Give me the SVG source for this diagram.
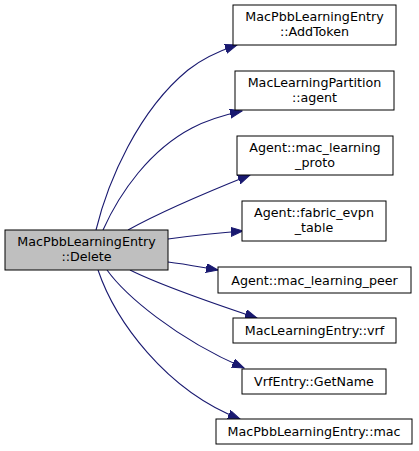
<svg xmlns="http://www.w3.org/2000/svg" width="419" height="451" viewBox="0 0 419 451">
<style>
.n rect{fill:#ffffff;stroke:#000000;stroke-width:1}
.n.cur rect{fill:#bfbfbf;stroke:#000000}
.n text{font-family:"DejaVu Sans",sans-serif;font-size:12.7px;fill:#000000;text-anchor:middle}
.e path{fill:none;stroke:#191970;stroke-width:1.1}
</style>
<defs>
<marker id="ah" markerUnits="userSpaceOnUse" markerWidth="13" markerHeight="10" refX="12" refY="4.5" orient="auto">
<path d="M0,0 L12,4.5 L0,9 z" fill="#191970" stroke="#191970" stroke-width="1"/>
</marker>
</defs>
<rect width="419" height="451" fill="#ffffff"/>
<g id="edges" class="e">
<path marker-end="url(#ah)" d="M96,230 C108,181 138,111 188,70 C203,58 219,51 237,45"/>
<path marker-end="url(#ah)" d="M103,230 C120,192 150,150 192,128 C207,120 224,115 242,111"/>
<path marker-end="url(#ah)" d="M128,230 C155,215 200,195 250,175"/>
<path marker-end="url(#ah)" d="M168,239 C190,236 215,233 243,231"/>
<path marker-end="url(#ah)" d="M168,262 C185,264 200,267 218,270"/>
<path marker-end="url(#ah)" d="M130,270 C160,285 215,304 257,318"/>
<path marker-end="url(#ah)" d="M107,270 C125,295 175,338 244,368"/>
<path marker-end="url(#ah)" d="M98,270 C115,320 165,390 240,419"/>
</g>
<g id="node-delete" class="n cur"><rect x="5" y="230" width="163" height="40"/><text x="86.5" y="246.2">MacPbbLearningEntry</text><text x="86.5" y="261.1">::Delete</text></g>
<g id="node-addtoken" class="n"><rect x="233" y="5" width="163" height="40"/><text x="314.5" y="21.2">MacPbbLearningEntry</text><text x="314.5" y="36.1">::AddToken</text></g>
<g id="node-agent" class="n"><rect x="235" y="71" width="159" height="39"/><text x="314.5" y="86.7">MacLearningPartition</text><text x="314.5" y="101.6">::agent</text></g>
<g id="node-proto" class="n"><rect x="237" y="136" width="156" height="39"/><text x="315" y="151.7">Agent::mac_learning</text><text x="315" y="166.6">_proto</text></g>
<g id="node-fabric" class="n"><rect x="242" y="201" width="144" height="40"/><text x="314" y="217.2">Agent::fabric_evpn</text><text x="314" y="232.1">_table</text></g>
<g id="node-peer" class="n"><rect x="218" y="267" width="193" height="26"/><text x="314.5" y="284.5">Agent::mac_learning_peer</text></g>
<g id="node-vrf" class="n"><rect x="233" y="318" width="163" height="25"/><text x="314.5" y="335">MacLearningEntry::vrf</text></g>
<g id="node-getname" class="n"><rect x="242" y="369" width="144" height="25"/><text x="314" y="386">VrfEntry::GetName</text></g>
<g id="node-mac" class="n"><rect x="216" y="419" width="196" height="25"/><text x="314" y="436">MacPbbLearningEntry::mac</text></g>
</svg>
